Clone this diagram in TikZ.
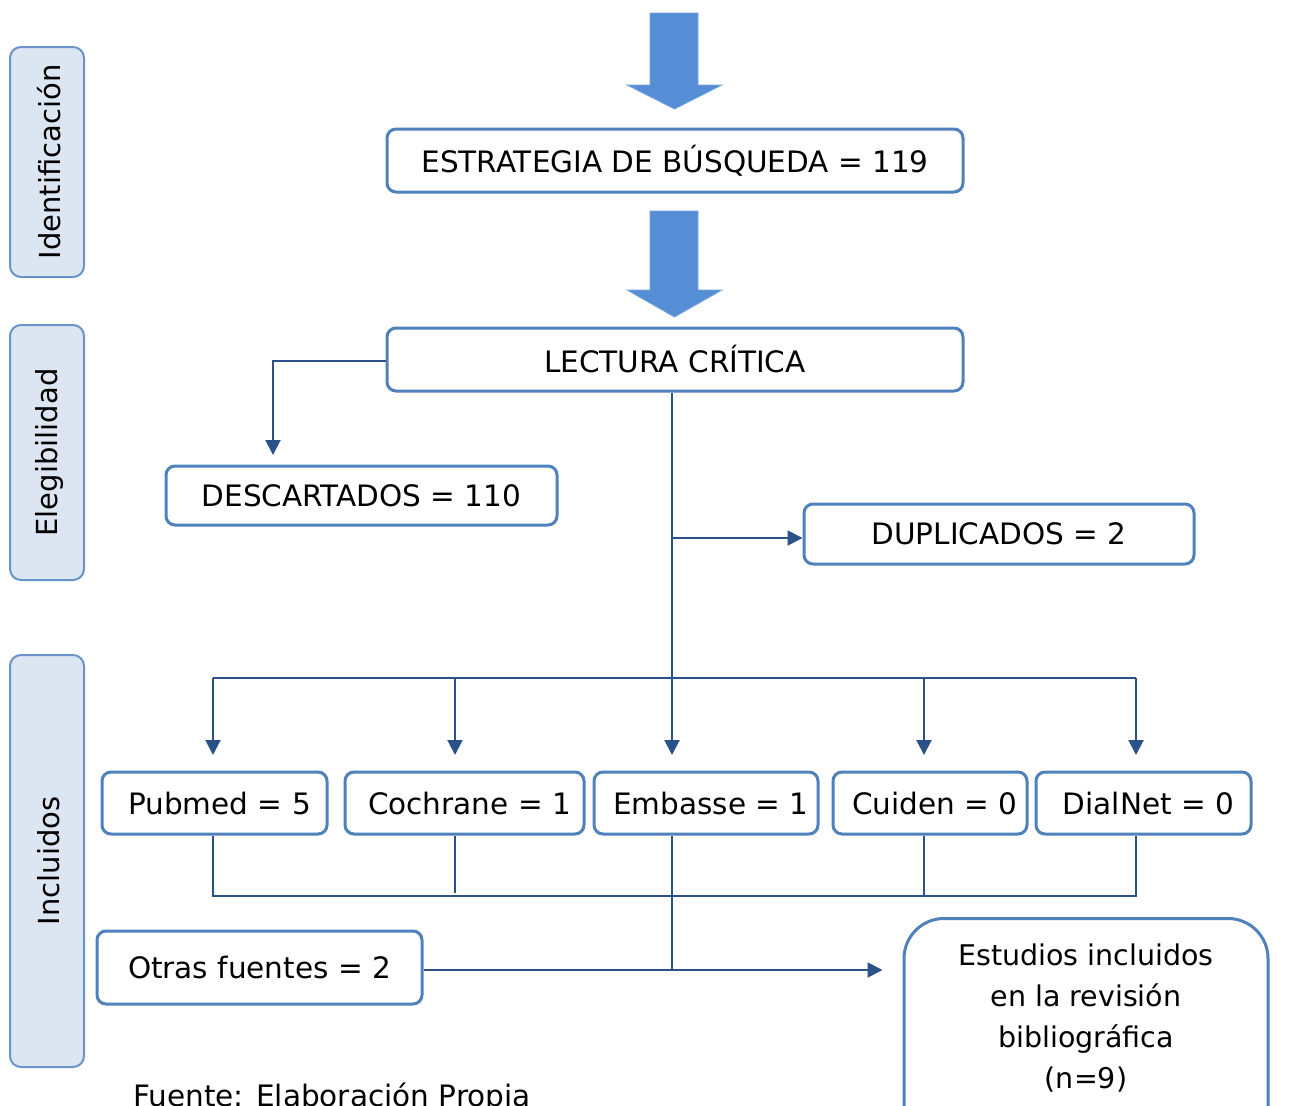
\documentclass[tikz,border=0pt]{standalone}
\usepackage{fontspec}
\setmainfont{DejaVu Sans}
\usetikzlibrary{arrows.meta,calc}
\definecolor{boxblue}{HTML}{4F81BD}
\definecolor{linkblue}{HTML}{2A5288}
\definecolor{sidefill}{HTML}{DCE6F2}
\definecolor{sideline}{HTML}{6A93C9}
\definecolor{bigarrow}{HTML}{558ED5}
\newcommand{\lpad}{\hspace*{10pt}}
\begin{document}
\begin{tikzpicture}[x=1pt,y=-1pt,
  box/.style={draw=boxblue, line width=3pt, rounded corners=9pt, fill=white, inner sep=0pt,
    font=\fontsize{29.5}{41}\selectfont},
  side/.style={draw=sideline, line width=2pt, fill=sidefill, rounded corners=11pt, inner sep=0pt},
  sidetext/.style={rotate=90, font=\fontsize{29}{32}\selectfont},
  link/.style={draw=linkblue, line width=2pt},
  arr/.style={link, -{Triangle[length=15pt,width=15pt]}},
  bigarr/.style={fill=bigarrow, draw=bigarrow!80!white, line width=0.8pt},
  txt/.style={font=\fontsize{28.5}{41}\selectfont, align=center, inner sep=0pt}
]
\clip (0,0) rectangle (1294,1106);
\fill[white] (0,0) rectangle (1294,1106);

% side labels
\node[side, minimum width=74pt, minimum height=230pt] (sid1) at (47,162) {};
\node[sidetext] at (49,162) {Identificación};
\node[side, minimum width=74pt, minimum height=255pt] (sid2) at (47,452.5) {};
\node[sidetext] at (49,452.5) {Elegibilidad};
\node[side, minimum width=74pt, minimum height=412pt] (sid3) at (47,861) {};
\node[sidetext] at (49,861) {Incluidos};

% big arrows
\path[bigarr] (650,13) -- (698,13) -- (698,85) -- (722,85) -- (674.5,109) -- (627,85) -- (650,85) -- cycle;
\path[bigarr] (650,211) -- (698,211) -- (698,290) -- (722,290) -- (674.5,317) -- (627,290) -- (650,290) -- cycle;

% main boxes
\node[box, minimum width=576pt, minimum height=63pt] (estr) at (675,160.5) {ESTRATEGIA DE BÚSQUEDA = 119};
\node[box, minimum width=576pt, minimum height=63pt] (lect) at (675,359.5) {LECTURA CRÍTICA};
\node[box, minimum width=391pt, minimum height=59pt] (desc) at (361.5,495.5) {DESCARTADOS = 110};
\node[box, minimum width=390pt, minimum height=60pt] (dup) at (999,534) {DUPLICADOS = 2};

\node[box, minimum width=225pt, minimum height=62pt] (pub) at (214.5,803) {\lpad Pubmed = 5};
\node[box, minimum width=239pt, minimum height=62pt] (coch) at (464.5,803) {\lpad Cochrane = 1};
\node[box, minimum width=224pt, minimum height=62pt] (emb) at (706,803) {\lpad Embasse = 1};
\node[box, minimum width=194pt, minimum height=62pt] (cui) at (930,803) {\lpad Cuiden = 0};
\node[box, minimum width=215pt, minimum height=62pt] (dial) at (1143.5,803) {\lpad DialNet = 0};

\node[box, minimum width=325pt, minimum height=73pt] (otras) at (259.5,967.5) {Otras fuentes = 2};
\node[box, rounded corners=40pt, minimum width=364pt, minimum height=240pt, anchor=north] (est) at (1086,917) {};
\node[txt] at (1086,1018.5) {Estudios incluidos\\en la revisión\\bibliográfica\\(n=9)};

\node[txt, font=\fontsize{29.5}{41}\selectfont, anchor=base west] (fuente) at (133,1106) {Fuente: Elaboración Propia};

% connectors
\coordinate (dtip) at (273,455);
\draw[arr] (lect.west |- 0,361) -| (dtip);

\coordinate (br) at (672,678);
\coordinate (dj) at (672,538);
\draw[link] (lect.south -| br) -- (br);
\draw[arr] (dj) -- (dup.west |- dj);
\draw[link] (213,678) -- (1136,678);
\foreach \x in {213,455,672,924,1136}{
  \draw[arr] (\x,678) -- (\x,755);
}

\draw[link] (pub.south -| 213,0) -- (213,896) -- (1136,896) -- (dial.south -| 1136,0);
\draw[link] (coch.south -| 455,0) -- (455,893);
\draw[link] (cui.south -| 924,0) -- (924,896);
\coordinate (jn) at (672,970);
\draw[link] (emb.south -| jn) -- (jn);
\draw[arr] (otras.east |- jn) -- ($(est.west |- jn)+(-20,0)$);
\end{tikzpicture}
\end{document}
